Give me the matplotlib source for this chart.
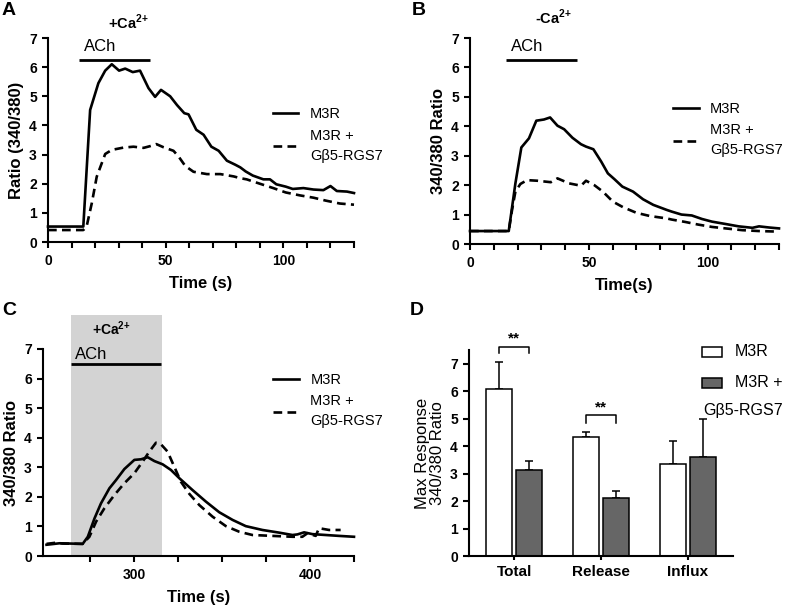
import matplotlib
matplotlib.use("Agg")
import matplotlib.pyplot as plt
from matplotlib.lines import Line2D
from matplotlib.patches import Rectangle
import numpy as np

plt.rcParams['font.family'] = ['Liberation Sans', 'DejaVu Sans']
plt.rcParams['mathtext.fontset'] = 'custom'
plt.rcParams['mathtext.rm'] = 'Liberation Sans'
plt.rcParams['mathtext.bf'] = 'Liberation Sans:bold'
plt.rcParams['axes.linewidth'] = 1.5

# ---------------- data ----------------
# Panel A (+Ca2+)
a_t_solid = [0, 15, 17.9, 21.4, 24.3, 27.1, 30.2, 32.8, 36, 39.1, 42.7, 45.5, 48, 51.9, 54.8,
             57.9, 59.7, 63, 66.1, 69.4, 72.5, 76, 79.6, 81.7, 84, 87, 91.5, 94.3, 97, 101,
             104, 108.5, 112.8, 117, 120, 122.7, 127, 130]
a_solid = [0.53, 0.53, 4.53, 5.45, 5.88, 6.1, 5.88, 5.95, 5.83, 5.88, 5.28, 4.98, 5.22, 5.0, 4.7,
           4.42, 4.38, 3.85, 3.68, 3.27, 3.13, 2.79, 2.65, 2.56, 2.42, 2.28, 2.15, 2.15, 1.98, 1.9,
           1.82, 1.85, 1.8, 1.78, 1.92, 1.75, 1.73, 1.68]
a_t_dash = [0, 15, 16.4, 18.6, 20.7, 24.3, 27.1, 32.1, 36.3, 40.6, 43.4, 46, 49.1, 53.3, 55.5,
            58.3, 61.8, 67.5, 73.2, 78.9, 81.7, 84.4, 90, 95.7, 101, 107, 112.8, 118, 124, 130]
a_dash = [0.41, 0.41, 0.53, 1.33, 2.24, 3.02, 3.16, 3.24, 3.27, 3.23, 3.29, 3.36, 3.25, 3.13, 2.93,
          2.61, 2.41, 2.33, 2.33, 2.25, 2.19, 2.15, 2.0, 1.85, 1.7, 1.6, 1.52, 1.42, 1.32, 1.28]
a_ach = [13.3, 43.4]

# Panel B (-Ca2+)
b_t_solid = [0, 16.3, 19.1, 21.6, 24.8, 27.9, 31.1, 33.7, 36.8, 39.6, 43.1, 46.7, 48.8, 51.9,
             55.2, 58, 60.8, 64.1, 68.6, 72.8, 77.1, 82.7, 84.9, 89, 93.3, 97.6, 101.8, 107.5,
             113, 118.8, 121.6, 125.9, 130]
b_solid = [0.44, 0.44, 2.06, 3.28, 3.59, 4.19, 4.23, 4.3, 4.02, 3.9, 3.61, 3.39, 3.31, 3.22,
           2.8, 2.4, 2.2, 1.95, 1.78, 1.52, 1.33, 1.16, 1.1, 1.0, 0.97, 0.85, 0.76, 0.68,
           0.6, 0.55, 0.6, 0.56, 0.53]
b_t_dash = [0, 16.3, 17.7, 19.1, 21.2, 24, 28.3, 34, 36.8, 41.7, 46.7, 48.8, 52.3, 55.9, 60.1,
            64.4, 70, 75.7, 82.7, 84.9, 90.5, 96, 101.8, 107.5, 114.6, 121.6, 130]
b_dash = [0.44, 0.44, 1.16, 1.78, 2.04, 2.17, 2.15, 2.1, 2.23, 2.06, 1.98, 2.15, 2.0, 1.78, 1.44,
          1.25, 1.06, 0.95, 0.87, 0.83, 0.75, 0.66, 0.58, 0.53, 0.47, 0.44, 0.42]
b_ach = [15, 45]

# Panel C (+Ca2+ re-addition)
c_t_solid = [250, 257.4, 270.6, 273.5, 277.3, 281, 285.8, 289.6, 294.3, 300, 303.8, 307.6, 311.4,
             316.1, 320.8, 325.6, 333.1, 340.7, 348.3, 355.9, 363.4, 372.9, 382.4, 390, 392.8,
             396.6, 401.3, 408.9, 416.5, 425]
c_solid = [0.38, 0.43, 0.41, 0.65, 1.27, 1.78, 2.29, 2.57, 2.94, 3.25, 3.27, 3.34, 3.21,
           3.1, 2.91, 2.63, 2.23, 1.84, 1.48, 1.22, 1.01, 0.88, 0.79, 0.71, 0.73,
           0.8, 0.74, 0.71, 0.68, 0.65]
c_t_dash = [250, 255.5, 259.3, 270.6, 274.4, 278.2, 282.9, 288.6, 294.3, 300, 304.7, 308.5, 312.3,
            315.1, 318.9, 322.7, 326.5, 331.3, 337, 344.5, 352.1, 359.7, 367.2, 378.6, 390,
            395.6, 398.5, 403.2, 405.1, 410.8, 417.4]
c_dash = [0.41, 0.45, 0.42, 0.41, 0.65, 1.16, 1.61, 2.06, 2.46, 2.8, 3.19, 3.53, 3.83,
          3.78, 3.53, 3.02, 2.51, 2.1, 1.72, 1.33, 1.01, 0.82, 0.71, 0.68, 0.65,
          0.65, 0.77, 0.68, 0.94, 0.88, 0.88]
c_ach = [264, 315]
c_ca_window = [264, 316]

# Panel D (bar summary)
categories = ['Total', 'Release', 'Influx']
d_m3r = [6.08, 4.33, 3.34]
d_m3r_err = [0.98, 0.19, 0.85]
d_rgs = [3.13, 2.12, 3.6]
d_rgs_err = [0.33, 0.25, 1.4]

label1 = 'M3R'
label2 = 'M3R +\nG\u03b25-RGS7'
ca_plus = '+Ca$^{\\mathbf{2{+}}}$'
ca_minus = '-Ca$^{\\mathbf{2{+}}}$'

# ---------------- drawing ----------------
fig = plt.figure(figsize=(7.9, 6.06), dpi=100)
W, H = 790, 606

def add_ax(l, r, t, b):
    return fig.add_axes([l / W, 1 - b / H, (r - l) / W, (b - t) / H])

axA = add_ax(48, 354, 38, 242)
axB = add_ax(470, 779, 38, 244)
axC = add_ax(43, 354, 349, 556)
axD = add_ax(469, 733, 350, 556)

LW = 1.9
DASH = (0, (3.3, 2.0))

def style_trace(ax, xlim, xmajor, xminor, xlabel, ylabel):
    for s in ['top', 'right']:
        ax.spines[s].set_visible(False)
    ax.set_xlim(*xlim)
    ax.set_ylim(0, 7)
    ax.set_yticks(range(0, 8))
    ax.set_xticks(xmajor)
    ax.set_xticks(xminor, minor=True)
    ax.tick_params(which='both', direction='out', length=4.5, width=1.5)
    ax.tick_params(axis='x', which='major', pad=4)
    for lab in ax.get_xticklabels() + ax.get_yticklabels():
        lab.set_fontsize(10)
        lab.set_fontweight('bold')
    ax.set_xlabel(xlabel, fontsize=12, fontweight='bold', labelpad=6)
    ax.set_ylabel(ylabel, fontsize=12, fontweight='bold', labelpad=4)

def add_legend(ax, x, y):
    handles = [Line2D([], [], color='black', lw=LW),
               Line2D([], [], color='black', lw=LW, linestyle=DASH)]
    leg = ax.legend(handles, [label1, label2], loc='upper left', bbox_to_anchor=(x, y),
                    frameon=False, fontsize=10.5, handlelength=1.75, handletextpad=0.8,
                    labelspacing=0.5, borderpad=0, borderaxespad=0)
    for t in leg.get_texts():
        t.set_linespacing(1.55)

# Panel A
axA.plot(a_t_solid, a_solid, color='black', lw=LW, clip_on=False, zorder=3)
axA.plot(a_t_dash, a_dash, color='black', lw=LW, linestyle=DASH, clip_on=False, zorder=3)
axA.plot(a_ach, [6.25, 6.25], color='black', lw=2.0, solid_capstyle='butt')
axA.text(sum(a_ach) / 2 - 6, 6.45, 'ACh', fontsize=12, ha='center', va='bottom')
axA.text(34, 7.55, ca_plus, fontsize=10.5, fontweight='bold', ha='center',
         va='center', clip_on=False)
style_trace(axA, (0, 130), [0, 50, 100], list(range(0, 131, 10)), 'Time (s)', 'Ratio (340/380)')
add_legend(axA, 0.735, 0.66)

# Panel B
axB.plot(b_t_solid, b_solid, color='black', lw=LW, clip_on=False, zorder=3)
axB.plot(b_t_dash, b_dash, color='black', lw=LW, linestyle=DASH, clip_on=False, zorder=3)
axB.plot(b_ach, [6.25, 6.25], color='black', lw=2.0, solid_capstyle='butt')
axB.text(sum(b_ach) / 2 - 6, 6.45, 'ACh', fontsize=12, ha='center', va='bottom')
axB.text(35, 7.7, ca_minus, fontsize=10.5, fontweight='bold', ha='center',
         va='center', clip_on=False)
style_trace(axB, (0, 130), [0, 50, 100], list(range(0, 131, 10)), 'Time(s)', '340/380 Ratio')
add_legend(axB, 0.657, 0.69)

# Panel C
axC.axvspan(c_ca_window[0], c_ca_window[1], ymin=0, ymax=8.15 / 7, color='#d3d3d3',
            lw=0, clip_on=False, zorder=0)
axC.plot(c_t_solid, c_solid, color='black', lw=LW, clip_on=False, zorder=3)
axC.plot(c_t_dash, c_dash, color='black', lw=LW, linestyle=DASH, clip_on=False, zorder=3)
axC.plot(c_ach, [6.5, 6.5], color='black', lw=2.0, solid_capstyle='butt')
axC.text(c_ach[0] + 2, 6.55, 'ACh', fontsize=12, ha='left', va='bottom')
axC.text(287, 7.7, ca_plus, fontsize=10, fontweight='bold', ha='center',
         va='center', clip_on=False)
style_trace(axC, (248, 425), [300, 400], [275, 325, 350, 375, 425], 'Time (s)', '340/380 Ratio')
add_legend(axC, 0.74, 0.885)

# Panel D
xpos = np.arange(len(categories))
bw = 0.30
off = 0.17
axD.bar(xpos - off, d_m3r, bw, color='white', edgecolor='black', lw=1.1, zorder=2)
axD.bar(xpos + off, d_rgs, bw, color='#666666', edgecolor='black', lw=1.1, zorder=2)
axD.errorbar(xpos - off, d_m3r, yerr=[[0] * 3, d_m3r_err], fmt='none', ecolor='black',
             elinewidth=1.1, capsize=3, capthick=1.1, zorder=1)
axD.errorbar(xpos + off, d_rgs, yerr=[[0] * 3, d_rgs_err], fmt='none', ecolor='black',
             elinewidth=1.1, capsize=3, capthick=1.1, zorder=1)
for i, (ytop, yleg) in zip([0, 1], [(7.6, 7.4), (5.12, 4.84)]):
    axD.plot([i - off, i - off, i + off, i + off], [yleg, ytop, ytop, yleg], color='black',
             lw=1.1, clip_on=False)
    axD.text(i, ytop + 0.05, '**', fontsize=11, fontweight='bold', ha='center', va='bottom')
for s in ['top', 'right']:
    axD.spines[s].set_visible(False)
axD.set_xlim(-0.52, 2.52)
axD.set_ylim(0, 7.5)
axD.set_yticks(range(0, 8))
axD.set_xticks(xpos)
axD.set_xticklabels(categories)
axD.tick_params(which='both', direction='out', length=4.5, width=1.5)
axD.tick_params(axis='x', length=3)
for lab in axD.get_xticklabels():
    lab.set_fontsize(11)
    lab.set_fontweight('bold')
for lab in axD.get_yticklabels():
    lab.set_fontsize(10)
    lab.set_fontweight('bold')
axD.set_ylabel('Max Response\n340/380 Ratio', fontsize=12, labelpad=4, linespacing=1.0)
# legend for D
axD.add_patch(Rectangle((0.881, 7.25 / 7.5), 0.076, 0.37 / 7.5, transform=axD.transAxes,
                        facecolor='white', edgecolor='black', lw=1.1, clip_on=False))
axD.add_patch(Rectangle((0.881, 6.11 / 7.5), 0.076, 0.37 / 7.5, transform=axD.transAxes,
                        facecolor='#666666', edgecolor='black', lw=1.1, clip_on=False))
axD.text(1.008, 7.45 / 7.5, 'M3R', transform=axD.transAxes, fontsize=11.5, va='center', ha='left')
axD.text(1.008, 6.3 / 7.5, 'M3R +', transform=axD.transAxes, fontsize=11.5, va='center', ha='left')
axD.text(0.886, 5.31 / 7.5, 'G\u03b25-RGS7', transform=axD.transAxes, fontsize=11.5,
         va='center', ha='left')

# panel letters
for letter, (px, py) in zip('ABCD', [(2, 2), (412, 2), (2, 302), (410, 302)]):
    fig.text(px / W, 1 - py / H, letter, fontsize=14, fontweight='bold', ha='left', va='top')

fig.savefig('out.png', dpi=100)
